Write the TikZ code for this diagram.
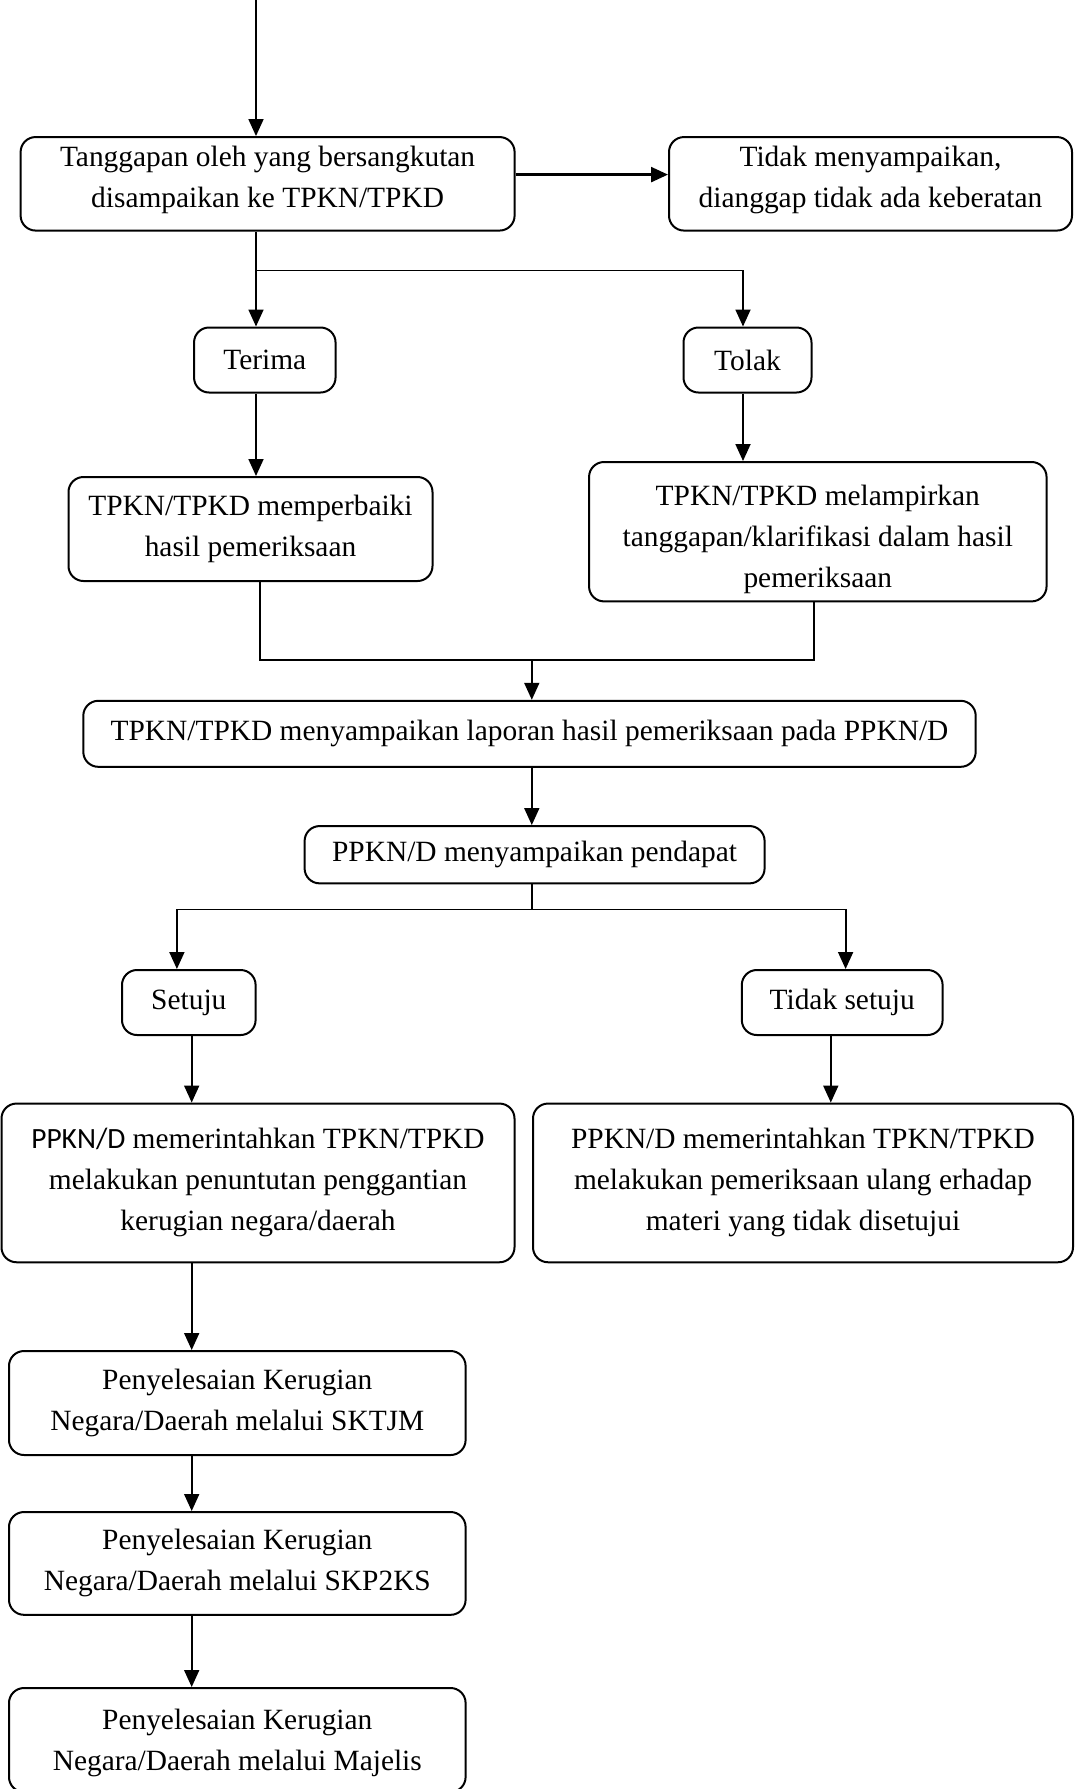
\documentclass[tikz,border=0pt]{standalone}
\usepackage{fontspec}
\setmainfont{Liberation Serif}
\newfontfamily\calfont{Carlito}
\usetikzlibrary{arrows.meta}
\begin{document}
\begin{tikzpicture}[x=0.5pt,y=-0.5pt,
  box/.style={draw, line width=1pt, rounded corners=7.5pt, align=center, inner sep=0pt,
    font=\fontsize{14.7}{20.5}\selectfont},
  arr/.style={line width=0.9pt, -{Triangle[length=8.5pt,width=7.5pt]}},
  ln/.style={line width=0.9pt}]
\clip (0,0) rectangle (1075,1789);
\useasboundingbox (0,0) rectangle (1075,1789);

\node[box, minimum width=247pt, minimum height=46.75pt] (box1) at (267.6,183.8)
  {\raisebox{2pt}[\height][\depth]{\parbox{240pt}{\centering Tanggapan oleh yang bersangkutan\\disampaikan ke TPKN/TPKD}}};
\node[box, minimum width=201.5pt, minimum height=46.75pt] (box2) at (870.5,183.8)
  {\raisebox{2pt}[\height][\depth]{\parbox{195pt}{\centering Tidak menyampaikan,\\dianggap tidak ada keberatan}}};
\node[box, minimum width=70.75pt, minimum height=32.5pt] (terima) at (264.8,360) {Terima};
\node[box, minimum width=64pt, minimum height=32.5pt] (tolak) at (747.5,360) {Tolak};
\node[box, minimum width=182pt, minimum height=52pt] (perbaiki) at (250.5,529)
  {TPKN/TPKD memperbaiki\\hasil pemeriksaan};
\node[box, minimum width=228.75pt, minimum height=69.7pt] (lampir) at (817.8,531.7)
  {\raisebox{-4pt}[\height][\depth]{\parbox{220pt}{\centering TPKN/TPKD melampirkan\\tanggapan/klarifikasi dalam hasil\\pemeriksaan}}};
\node[box, minimum width=446.2pt, minimum height=33pt] (laporan) at (529.5,733.8)
  {TPKN/TPKD menyampaikan laporan hasil pemeriksaan pada PPKN/D};
\node[box, minimum width=230pt, minimum height=28.65pt] (pendapat) at (534.6,854.7)
  {PPKN/D menyampaikan pendapat};
\node[box, minimum width=66.8pt, minimum height=32.5pt] (setuju) at (188.8,1002.5) {Setuju};
\node[box, minimum width=100.4pt, minimum height=32.5pt] (tidak) at (842.2,1002.5) {Tidak setuju};
\node[box, minimum width=256.5pt, minimum height=79.35pt] (perintah1) at (258,1182.9)
  {{\calfont PPKN/D} memerintahkan TPKN/TPKD\\melakukan penuntutan penggantian\\kerugian negara/daerah};
\node[box, minimum width=270pt, minimum height=79.35pt] (perintah2) at (803,1182.9)
  {PPKN/D memerintahkan TPKN/TPKD\\melakukan pemeriksaan ulang erhadap\\materi yang tidak disetujui};
\node[box, minimum width=228.3pt, minimum height=52pt] (sktjm) at (237.3,1403)
  {Penyelesaian Kerugian\\Negara/Daerah melalui SKTJM};
\node[box, minimum width=228.3pt, minimum height=51.4pt] (skp2ks) at (237.3,1563.4)
  {Penyelesaian Kerugian\\Negara/Daerah melalui SKP2KS};
\node[box, minimum width=228.3pt, minimum height=52pt, text depth=0pt] (majelis) at (237.3,1740)
  {Penyelesaian Kerugian\\Negara/Daerah melalui Majelis};

% guide coordinates for connector routes
\coordinate (start) at (256,0);
\coordinate (xa) at (256,0);
\coordinate (h1) at (0,174.6);
\coordinate (br1) at (256,270.5);
\coordinate (br1r) at (743,270.5);
\coordinate (xl) at (260,659.6);
\coordinate (xr) at (813.7,659.6);
\coordinate (xm) at (531.8,659.6);
\coordinate (br2) at (531.8,909.5);
\coordinate (br2l) at (176.9,909.5);
\coordinate (br2r) at (845.6,909.5);
\coordinate (xs) at (191.7,0);
\coordinate (xt) at (830.8,0);

\draw[arr] (start) -- (box1.north -| start);
\draw[arr, line width=1.2pt] (box1.east |- h1) -- (box2.west |- h1);
\draw[ln] (box1.south -| xa) -- (br1);
\draw[arr] (br1) -- (terima.north -| br1);
\draw[arr] (br1) -- (br1r) -- (tolak.north -| br1r);
\draw[arr] (terima.south -| xa) -- (perbaiki.north -| xa);
\draw[arr] (tolak.south -| br1r) -- (lampir.north -| br1r);
\draw[ln] (perbaiki.south -| xl) -- (xl) -- (xr) -- (lampir.south -| xr);
\draw[arr] (xm) -- (laporan.north -| xm);
\draw[arr] (laporan.south -| xm) -- (pendapat.north -| xm);
\draw[ln] (pendapat.south -| br2) -- (br2);
\draw[arr] (br2) -- (br2l) -- (setuju.north -| br2l);
\draw[arr] (br2) -- (br2r) -- (tidak.north -| br2r);
\draw[arr] (setuju.south -| xs) -- (perintah1.north -| xs);
\draw[arr] (tidak.south -| xt) -- (perintah2.north -| xt);
\draw[arr] (perintah1.south -| xs) -- (sktjm.north -| xs);
\draw[arr] (sktjm.south -| xs) -- (skp2ks.north -| xs);
\draw[arr] (skp2ks.south -| xs) -- (majelis.north -| xs);
\end{tikzpicture}
\end{document}
